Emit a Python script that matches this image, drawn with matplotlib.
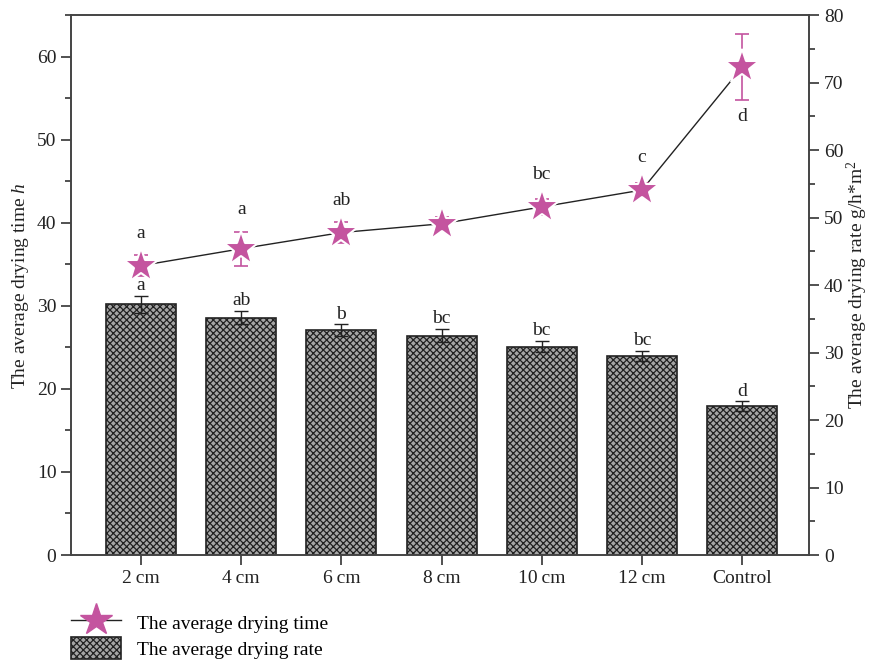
import numpy as np
import matplotlib
matplotlib.use("Agg")
import matplotlib.pyplot as plt
from matplotlib.ticker import MultipleLocator
from matplotlib.lines import Line2D
from matplotlib.patches import Patch

plt.rcParams['font.family'] = ['Liberation Serif', 'DejaVu Serif']
plt.rcParams['hatch.linewidth'] = 0.9
plt.rcParams['mathtext.fontset'] = 'custom'
plt.rcParams['mathtext.it'] = 'Liberation Serif:italic'
plt.rcParams['mathtext.rm'] = 'Liberation Serif'

categories = ['2\u2009cm', '4\u2009cm', '6\u2009cm', '8\u2009cm', '10\u2009cm', '12\u2009cm', 'Control']
bar_vals = [30.2, 28.6, 27.1, 26.4, 25.1, 24.0, 17.9]
bar_err = [1.0, 0.8, 0.7, 0.8, 0.7, 0.6, 0.6]
bar_letters = ['a', 'ab', 'b', 'bc', 'bc', 'bc', 'd']
star_vals = [42.9, 45.4, 47.8, 49.1, 51.6, 54.1, 72.3]
star_err = [1.5, 2.5, 1.5, 1.0, 1.2, 1.0, 4.9]
star_letters = ['a', 'a', 'ab', '', 'bc', 'c', 'd']

pink = '#c4549f'
x = np.arange(len(categories))

fig = plt.figure(figsize=(8.72, 6.65), dpi=100)
ax1 = fig.add_axes([0.0814, 0.1654, 0.8466, 0.8116])
ax2 = ax1.twinx()

ax1.bar(x, bar_vals, width=0.7, color='#a6a6a6', edgecolor='#222222',
        hatch='xxxxx', linewidth=1.2, zorder=2)
ax1.errorbar(x, bar_vals, yerr=bar_err, fmt='none', ecolor='#222222',
             elinewidth=1.0, capsize=5, capthick=1.0, zorder=3)
for xi, v, e, t in zip(x, bar_vals, bar_err, bar_letters):
    ax1.text(xi, v + e + 0.2, t, ha='center', va='bottom', fontsize=14, color='#222222')

ax2.plot(x, star_vals, color='#222222', linewidth=1.0, zorder=1)
ax2.errorbar(x, star_vals, yerr=star_err, fmt='none', ecolor=pink,
             elinewidth=1.2, capsize=5, capthick=1.2, zorder=2)
ax2.plot(x, star_vals, linestyle='none', marker='*', markersize=26, color=pink,
         markeredgecolor='white', markeredgewidth=1.5, zorder=3)
for i, (xi, v, e, t) in enumerate(zip(x, star_vals, star_err, star_letters)):
    if not t:
        continue
    if i == len(x) - 1:
        ax2.text(xi, v - e - 1.2, t, ha='center', va='top', fontsize=14, color='#222222')
    else:
        ax2.text(xi, max(v + e, v + 1.5) + 2.0, t, ha='center', va='bottom', fontsize=14, color='#222222')

ax1.set_xlim(-0.7, 6.67)
ax1.set_ylim(0, 65)
ax2.set_ylim(0, 80)
ax1.set_xticks(x)
ax1.set_xticklabels(categories)
ax1.yaxis.set_major_locator(MultipleLocator(10))
ax1.yaxis.set_minor_locator(MultipleLocator(5))
ax2.yaxis.set_major_locator(MultipleLocator(10))
ax2.yaxis.set_minor_locator(MultipleLocator(5))

for ax in (ax1, ax2):
    ax.tick_params(axis='both', which='major', direction='out', length=7, width=1.2,
                   labelsize=14, colors='#333333', labelcolor='#222222')
    ax.tick_params(axis='y', which='minor', direction='out', length=4, width=1.2, colors='#333333')
    for s in ax.spines.values():
        s.set_linewidth(1.2)
        s.set_color('#444444')

ax1.set_ylabel('The average drying time $h$', fontsize=14, color='#222222', labelpad=4)
ax2.set_ylabel('The average drying rate g/h$*$m$^2$', fontsize=14, color='#222222', labelpad=1)

h1 = Line2D([], [], color='#222222', linewidth=1.0, marker='*', markersize=24,
            markerfacecolor=pink, markeredgecolor=pink)
h2 = Patch(facecolor='#a6a6a6', edgecolor='#222222', hatch='xxxxx', linewidth=1.2)
fig.legend([h1, h2], ['The average drying time', 'The average drying rate'],
           loc='upper left', bbox_to_anchor=(0.07, 0.095), frameon=False,
           fontsize=14, handlelength=2.6, handleheight=1.4, labelspacing=0.15,
           handletextpad=0.8, borderpad=0)

fig.savefig('out.png', dpi=100)
